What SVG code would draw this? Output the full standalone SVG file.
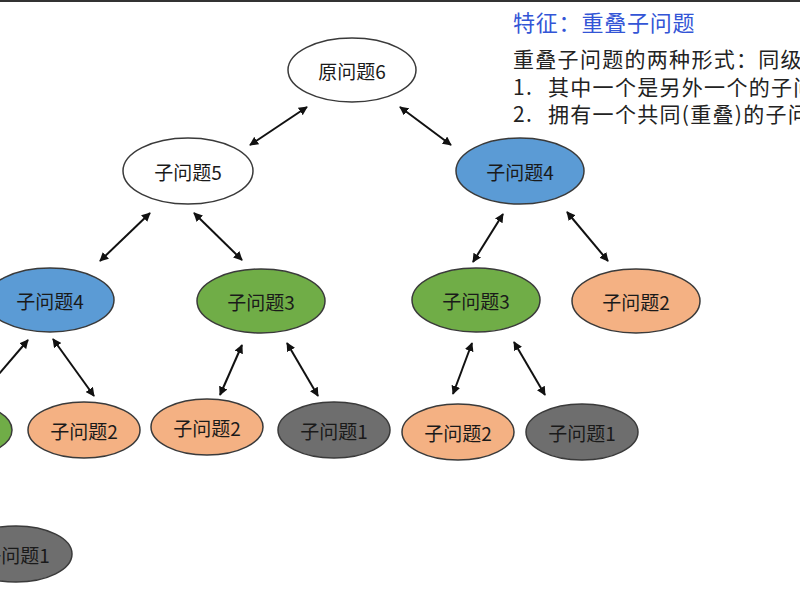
<svg xmlns="http://www.w3.org/2000/svg" width="800" height="600" viewBox="0 0 800 600">
<defs>
<marker id="ah" viewBox="0 0 10 10" refX="9" refY="5" markerWidth="9" markerHeight="9" markerUnits="userSpaceOnUse" orient="auto-start-reverse">
<path d="M0,0 L10,5 L0,10 z" fill="#111"/>
</marker>
<style>
.n{stroke:#3a3a3a;stroke-width:1.5}
.w{fill:#ffffff}
.b{fill:#5b9bd5}
.g{fill:#70ad47}
.o{fill:#f4b183}
.k{fill:#6e6e6e}
.t{font-family:"Noto Sans CJK SC","Noto Sans",sans-serif;font-size:19px;fill:#1a1a1a;text-anchor:middle;dominant-baseline:central}
.c line{stroke:#111;stroke-width:2;marker-start:url(#ah);marker-end:url(#ah)}
.r{font-family:"Noto Sans CJK SC","Noto Sans",sans-serif;font-size:21px;fill:#222;letter-spacing:1.3px}
</style>
</defs>
<rect width="800" height="600" fill="#fff"/>
<line x1="0" y1="1" x2="800" y2="1" stroke="#333" stroke-width="2"/>
<g class="c" id="connectors">
<line x1="307" y1="107" x2="250" y2="145"/>
<line x1="400" y1="107" x2="451" y2="145"/>
<line x1="150" y1="213" x2="100" y2="261"/>
<line x1="194" y1="213" x2="242" y2="260"/>
<line x1="503" y1="214" x2="473" y2="262"/>
<line x1="567" y1="212" x2="608" y2="261"/>
<line x1="28" y1="340" x2="-8" y2="382"/>
<line x1="53" y1="339" x2="94" y2="396"/>
<line x1="242" y1="345" x2="220" y2="395"/>
<line x1="287" y1="343" x2="318" y2="396"/>
<line x1="472" y1="343" x2="453" y2="394"/>
<line x1="514" y1="342" x2="545" y2="395"/>
</g>
<g id="n6"><ellipse class="n w" cx="352" cy="70" rx="64" ry="32"/><text class="t" x="352" y="70">原问题6</text></g>
<g id="n5"><ellipse class="n w" cx="188" cy="171" rx="65" ry="33"/><text class="t" x="188" y="171">子问题5</text></g>
<g id="n4r"><ellipse class="n b" cx="520" cy="171" rx="64" ry="33"/><text class="t" x="520" y="171">子问题4</text></g>
<g id="n4l"><ellipse class="n b" cx="50" cy="300" rx="64" ry="32"/><text class="t" x="50" y="300">子问题4</text></g>
<g id="n3m"><ellipse class="n g" cx="261" cy="301" rx="64" ry="32"/><text class="t" x="261" y="301">子问题3</text></g>
<g id="n3r"><ellipse class="n g" cx="476" cy="300" rx="64" ry="32"/><text class="t" x="476" y="300">子问题3</text></g>
<g id="n2r"><ellipse class="n o" cx="636" cy="301" rx="64" ry="32"/><text class="t" x="636" y="301">子问题2</text></g>
<g id="n3l"><ellipse class="n g" cx="-44" cy="430" rx="56" ry="28"/></g>
<g id="n2a"><ellipse class="n o" cx="84" cy="430" rx="56" ry="28"/><text class="t" x="84" y="430">子问题2</text></g>
<g id="n2b"><ellipse class="n o" cx="207" cy="427" rx="56" ry="28"/><text class="t" x="207" y="427">子问题2</text></g>
<g id="n1a"><ellipse class="n k" cx="334" cy="430" rx="56" ry="28"/><text class="t" x="334" y="430">子问题1</text></g>
<g id="n2c"><ellipse class="n o" cx="458" cy="432" rx="56" ry="28"/><text class="t" x="458" y="432">子问题2</text></g>
<g id="n1b"><ellipse class="n k" cx="582" cy="432" rx="56" ry="28"/><text class="t" x="582" y="432">子问题1</text></g>
<g id="n1c"><ellipse class="n k" cx="16" cy="554" rx="56" ry="28"/><text class="t" x="16" y="554">子问题1</text></g>
<g id="notes">
<text x="513" y="31" font-family="Noto Sans CJK SC, Noto Sans, sans-serif" font-size="22" fill="#3355d6" letter-spacing="0.8">特征：重叠子问题</text>
<text class="r" x="513" y="67">重叠子问题的两种形式：同级</text>
<text class="r" x="513" y="95">1.<tspan x="548">其中一个是另外一个的子问</tspan></text>
<text class="r" x="513" y="122">2.<tspan x="548">拥有一个共同(重叠)的子问</tspan></text>
</g>
</svg>
